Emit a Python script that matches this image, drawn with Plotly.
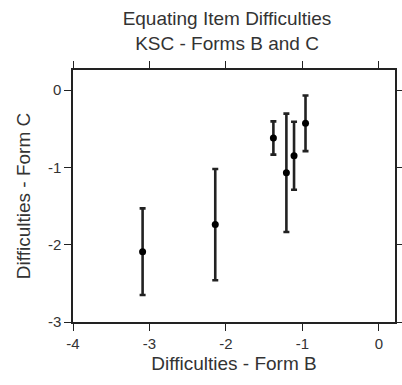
import plotly.graph_objects as go

# Item difficulty estimates on the two forms, with standard-error bars on Form C
form_b = [-3.09, -2.14, -1.38, -1.21, -1.11, -0.96]
form_c = [-2.09, -1.74, -0.62, -1.07, -0.85, -0.43]
err_c = [0.56, 0.72, 0.215, 0.765, 0.44, 0.36]

x_ticks = [-4, -3, -2, -1, 0]
y_ticks = [0, -1, -2, -3]

FONT = "Liberation Sans, Arial, Helvetica, sans-serif"
TXT = "#333333"
LINE = "#222222"

fig = go.Figure(
    go.Scatter(
        x=form_b,
        y=form_c,
        mode="markers",
        marker=dict(color="black", size=7),
        error_y=dict(type="data", array=err_c, visible=True,
                     color="#222222", thickness=2.6, width=3),
        showlegend=False,
    )
)

axis_common = dict(
    showgrid=False,
    zeroline=False,
    showline=True,
    linecolor=LINE,
    linewidth=1.5,
    mirror="ticks",
    ticks="outside",
    ticklen=7,
    tickwidth=1,
    tickcolor=LINE,
    tickfont=dict(family=FONT, size=15, color=TXT),
    automargin=False,
)

fig.update_xaxes(
    range=[-4, 0.21],
    tickvals=x_ticks,
    ticktext=[str(v) for v in x_ticks],
    title=dict(text="Difficulties - Form B", font=dict(family=FONT, size=19, color=TXT), standoff=6),
    **axis_common,
)
fig.update_yaxes(
    range=[-3, 0.26],
    tickvals=y_ticks,
    ticktext=[str(v) for v in y_ticks],
    title=dict(text="Difficulties - Form C", font=dict(family=FONT, size=19, color=TXT), standoff=12),
    **axis_common,
)

fig.update_layout(
    width=402,
    height=385,
    margin=dict(l=73, r=7, t=70, b=63, autoexpand=False),
    paper_bgcolor="white",
    plot_bgcolor="white",
    title=dict(
        text="Equating Item Difficulties<br>KSC - Forms B and C",
        font=dict(family=FONT, size=19, color=TXT),
        x=227 / 402,
        xanchor="center",
        xref="container",
        y=1 - 25 / 385,
        yref="container",
        yanchor="top",
    ),
)

fig.write_html("out.html")
